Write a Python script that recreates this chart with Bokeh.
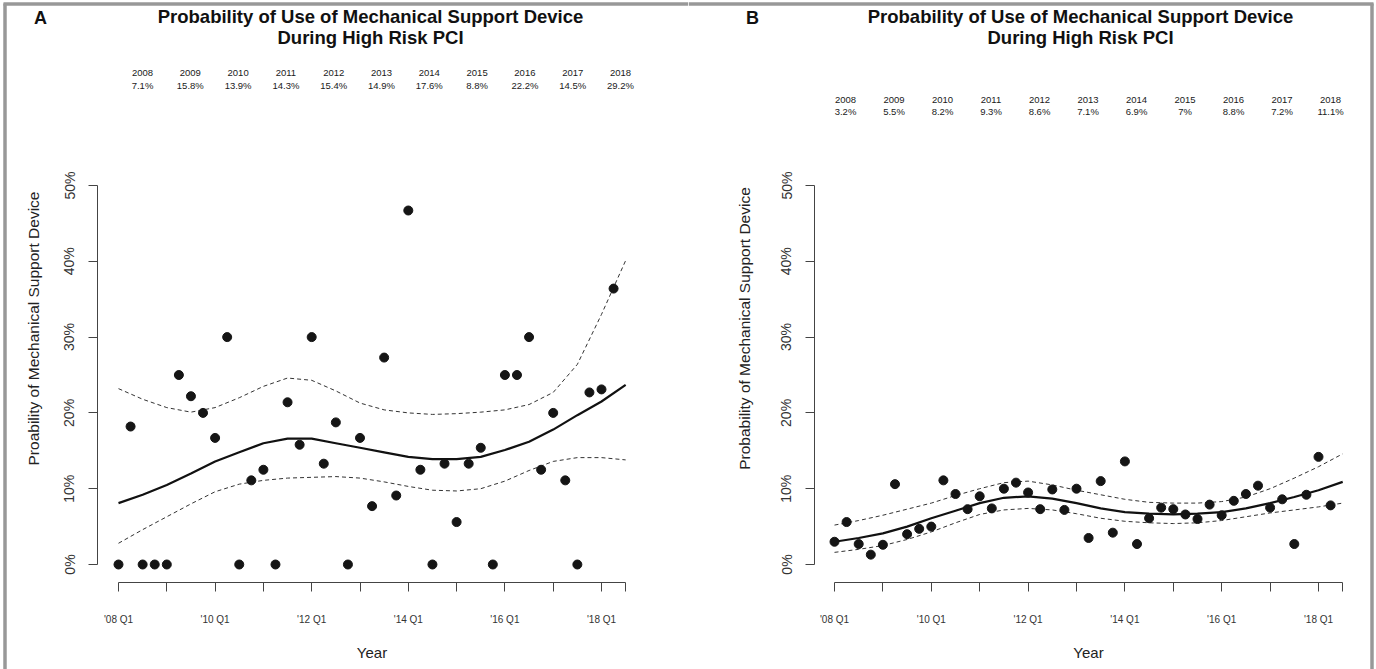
import math
from bokeh.plotting import figure
from bokeh.layouts import row
from bokeh.models import Range1d, LinearAxis, FixedTicker, Label, PrintfTickFormatter
from bokeh.embed import file_html
from bokeh.resources import INLINE

# ---------------- data ----------------
quarters = [2008 + i / 4 for i in range(42)]          # 2008 Q1 ... 2018 Q2
curve_x = [2008 + i / 2 for i in range(22)]           # 2008.0 ... 2018.5

years = ["2008", "2009", "2010", "2011", "2012", "2013", "2014", "2015", "2016", "2017", "2018"]
pct_a = ["7.1%", "15.8%", "13.9%", "14.3%", "15.4%", "14.9%", "17.6%", "8.8%", "22.2%", "14.5%", "29.2%"]
pct_b = ["3.2%", "5.5%", "8.2%", "9.3%", "8.6%", "7.1%", "6.9%", "7%", "8.8%", "7.2%", "11.1%"]

points_a = [0, 18.2, 0, 0, 0, 25.0, 22.2, 20.0, 16.7, 30.0, 0, 11.1, 12.5, 0, 21.4, 15.8,
            30.0, 13.3, 18.75, 0, 16.7, 7.7, 27.3, 9.1, 46.7, 12.5, 0, 13.3, 5.6, 13.3, 15.4, 0,
            25.0, 25.0, 30.0, 12.5, 20.0, 11.1, 0, 22.7, 23.1, 36.4]
fit_a = [8.1, 9.2, 10.5, 12.0, 13.6, 14.8, 16.0, 16.6, 16.6, 16.0, 15.4, 14.8, 14.2, 13.9,
         13.9, 14.2, 15.1, 16.2, 17.8, 19.7, 21.5, 23.7]
upper_a = [23.2, 21.8, 20.7, 20.1, 20.7, 22.0, 23.5, 24.6, 24.3, 22.9, 21.3, 20.4, 20.0, 19.8,
           19.9, 20.1, 20.4, 21.1, 22.7, 26.4, 33.0, 40.1]
lower_a = [2.8, 4.6, 6.3, 8.0, 9.6, 10.6, 11.1, 11.4, 11.5, 11.6, 11.4, 10.9, 10.3, 9.8,
           9.7, 10.0, 11.0, 12.4, 13.6, 14.1, 14.1, 13.8]

points_b = [3.0, 5.6, 2.7, 1.3, 2.6, 10.6, 4.0, 4.7, 5.0, 11.1, 9.3, 7.3, 9.0, 7.4, 10.0, 10.8,
            9.5, 7.3, 9.9, 7.2, 10.0, 3.5, 11.0, 4.2, 13.6, 2.7, 6.1, 7.5, 7.3, 6.6, 6.0, 7.9,
            6.5, 8.4, 9.3, 10.4, 7.5, 8.6, 2.7, 9.2, 14.2, 7.8]
fit_b = [3.0, 3.5, 4.1, 5.0, 6.1, 7.1, 8.1, 8.8, 9.0, 8.7, 8.1, 7.4, 6.9, 6.7, 6.6, 6.7,
         6.9, 7.4, 8.1, 8.9, 9.8, 10.9]
upper_b = [5.2, 5.8, 6.5, 7.3, 8.1, 9.1, 10.0, 10.8, 11.0, 10.5, 9.8, 9.2, 8.6, 8.2, 8.1, 8.1,
           8.3, 8.9, 10.0, 11.4, 12.9, 14.6]
lower_b = [1.6, 2.0, 2.5, 3.3, 4.3, 5.5, 6.6, 7.2, 7.4, 7.2, 6.7, 6.1, 5.7, 5.5, 5.4, 5.5,
           5.8, 6.3, 6.8, 7.2, 7.6, 8.1]

x_ticks = [2008, 2009, 2010, 2011, 2012, 2013, 2014, 2015, 2016, 2017, 2018, 2018.5]
x_tick_labels = ["'08 Q1", "", "'10 Q1", "", "'12 Q1", "", "'14 Q1", "", "'16 Q1", "", "'18 Q1", ""]
y_ticks = [0, 10, 20, 30, 40, 50]

title_lines = ["Probability of Use of Mechanical Support Device", "During High Risk PCI"]

# ---------------- layout ----------------
W, H = 688, 669
FONT = "Liberation Sans"
TXT = "#1a1a1a"
FRAME = "#989898"
Y0_PX, PX_PER_PCT = 564, 7.58


def panel(letter, ylab, pts, fit, up, lo, pcts, g):
    ppy = g["ppy"]
    x0 = g["x2008"]

    def dx(px):
        return 2008 + (px - x0) / ppy

    def dy(py):
        return (Y0_PX - py) / PX_PER_PCT

    p = figure(width=W, height=H, x_range=Range1d(dx(0), dx(W)), y_range=Range1d(dy(H), dy(0)),
               x_axis_type=None, y_axis_type=None, toolbar_location=None, output_backend="svg",
               min_border=0, outline_line_color=None, background_fill_color="white",
               border_fill_color="white")
    p.grid.visible = False

    # axes
    yax = LinearAxis(fixed_location=dx(g["yaxis"]), bounds=(0, 50),
                     ticker=FixedTicker(ticks=y_ticks),
                     formatter=PrintfTickFormatter(format="%d%%"))
    yax.major_label_orientation = "parallel"
    yax.major_label_text_font = FONT
    yax.major_label_text_font_size = "14px"
    yax.major_label_text_color = "#333333"
    yax.major_label_standoff = 11
    yax.major_tick_out = 9
    yax.major_tick_in = 0
    yax.minor_tick_out = 0
    yax.minor_tick_in = 0
    yax.axis_line_color = "#444444"
    yax.major_tick_line_color = "#444444"
    p.add_layout(yax, "left")

    xax = LinearAxis(fixed_location=dy(g["xaxis"]), bounds=(2008, 2018.5),
                     ticker=FixedTicker(ticks=x_ticks),
                     major_label_overrides={float(t): s for t, s in zip(x_ticks, x_tick_labels)})
    xax.major_label_text_font = FONT
    xax.major_label_text_font_size = "10px"
    xax.major_label_text_color = "#333333"
    xax.major_label_standoff = 22
    xax.major_tick_out = 9
    xax.major_tick_in = 0
    xax.minor_tick_out = 0
    xax.minor_tick_in = 0
    xax.axis_line_color = "#444444"
    xax.major_tick_line_color = "#444444"
    xax.axis_label = "Year"
    xax.axis_label_text_font = FONT
    xax.axis_label_text_font_style = "normal"
    xax.axis_label_text_font_size = "15px"
    xax.axis_label_text_color = "#222222"
    xax.axis_label_standoff = 16
    p.add_layout(xax, "below")

    # y axis title, centred on the plot region as in R
    p.add_layout(Label(x=dx(g["ylab_x"]), y=dy(g["ylab_y"]), text=ylab, angle=math.pi / 2,
                       text_font=FONT, text_font_size="15.5px", text_color="#222222",
                       text_align="center", text_baseline="middle"))

    # confidence band and fit
    p.line(curve_x, up, line_color="#333333", line_width=1, line_dash="4 3")
    p.line(curve_x, lo, line_color="#333333", line_width=1, line_dash="4 3")
    p.line(curve_x, fit, line_color="#111111", line_width=2.2)
    p.scatter(quarters, pts, size=9, fill_color="#151515", line_color="#151515")

    # frame
    for seg in g["frame"]:
        p.segment(x0=[dx(seg[0])], y0=[dy(seg[1])], x1=[dx(seg[2])], y1=[dy(seg[3])],
                  line_color=FRAME, line_width=3.5)

    # texts
    p.add_layout(Label(x=dx(g["letter_x"]), y=dy(g["letter_y"]), text=letter, text_font=FONT,
                       text_font_style="bold", text_font_size="18px", text_color="#111111",
                       text_align="center", text_baseline="middle"))
    for i, t in enumerate(title_lines):
        p.add_layout(Label(x=dx(g["title_cx"]), y=dy(g["title_y"][i]), text=t, text_font=FONT,
                           text_font_style="bold", text_font_size="18.5px", text_color="#111111",
                           text_align="center", text_baseline="middle"))
    for i, (yr, pc) in enumerate(zip(years, pcts)):
        xp = g["ann_x0"] + i * g["ann_dx"]
        p.add_layout(Label(x=dx(xp), y=dy(g["ann_y"][0]), text=yr, text_font=FONT,
                           text_font_size="9.5px", text_color=TXT, text_align="center",
                           text_baseline="middle"))
        p.add_layout(Label(x=dx(xp), y=dy(g["ann_y"][1]), text=pc, text_font=FONT,
                           text_font_size="9.5px", text_color=TXT, text_align="center",
                           text_baseline="middle"))
    return p


geom_a = dict(ppy=48.3, x2008=118, yaxis=97, xaxis=582, letter_x=40, letter_y=17,
              title_cx=370, title_y=[16, 37], ann_x0=142, ann_dx=47.8, ann_y=[72, 85],
              ylab_x=33, ylab_y=328,
              frame=[(4.5, 3, 4.5, 669), (3, 3.5, 688, 3.5)])
geom_b = dict(ppy=48.4, x2008=146, yaxis=126, xaxis=582, letter_x=64, letter_y=17,
              title_cx=392, title_y=[16, 37], ann_x0=157, ann_dx=48.5, ann_y=[99, 111],
              ylab_x=56, ylab_y=328,
              frame=[(0, 3.5, 685, 3.5), (683.5, 3, 683.5, 669)])

pa = panel("A", "Proability of Mechanical Support Device", points_a, fit_a, upper_a, lower_a, pct_a, geom_a)
pb = panel("B", "Probability of Mechanical Support Device", points_b, fit_b, upper_b, lower_b, pct_b, geom_b)

layout = row(pa, pb)
open("out.html", "w").write(file_html(layout, INLINE))
